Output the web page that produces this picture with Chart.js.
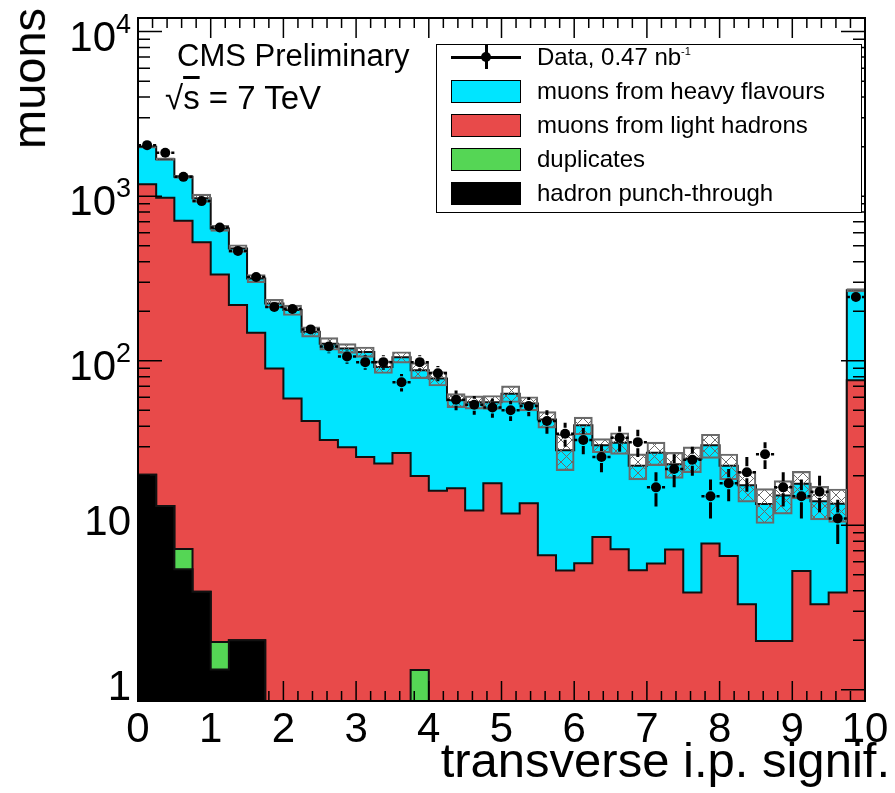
<!DOCTYPE html>
<html>
<head>
<meta charset="utf-8">
<title>Muon transverse impact parameter significance</title>
<script src="https://cdn.jsdelivr.net/npm/chart.js@4.4.1/dist/chart.umd.min.js"></script>
<style>
  html, body { margin: 0; padding: 0; background: #fff; }
  #wrap { position: relative; width: 895px; height: 793px; font-family: 'Liberation Sans', Arial, Helvetica, sans-serif; color: #000; }
  canvas { display: block; }
  .txt { position: absolute; white-space: nowrap; line-height: 1; }
  #legend { position: absolute; left: 436px; top: 44px; width: 424px; height: 167px; border: 1.5px solid #000; background: #fff; }
  .row { position: absolute; left: 0; height: 34px; width: 100%; }
  .swatch { position: absolute; left: 14px; top: 1px; width: 68px; height: 21px; border: 1.5px solid #000; }
  .label { position: absolute; left: 100px; top: 0px; font-size: 24px; line-height: 1; }
</style>
</head>
<body>
<div id="wrap">
  <canvas id="ipChart" width="895" height="793"></canvas>

  <div class="txt" style="left:177px; top:40px; font-size:31px;">CMS Preliminary</div>
  <div class="txt" style="left:165px; top:81px; font-size:33px;">√<span style="text-decoration:overline;">s</span> = 7 TeV</div>

  <div class="txt" style="right:5px; top:736px; font-size:49px;">transverse i.p. signif.</div>
  <div class="txt" style="left:-42px; top:55px; font-size:47px; transform: rotate(-90deg); transform-origin: center;">muons</div>

  <div id="legend">
    <div class="row" style="top:0px;">
      <div style="position:absolute; left:14px; top:11px; width:70px; height:2.5px; background:#000;"></div>
      <div style="position:absolute; left:44px; top:7px; width:10px; height:10px; border-radius:50%; background:#000;"></div>
      <div style="position:absolute; left:47.5px; top:0px; width:3px; height:24px; background:#000;"></div>
      <div class="label">Data, 0.47 nb<sup style="font-size:11px; vertical-align:10px;">-1</sup></div>
    </div>
    <div class="row" style="top:34px;"><div class="swatch" style="background:#00e5ff;"></div><div class="label">muons from heavy flavours</div></div>
    <div class="row" style="top:68px;"><div class="swatch" style="background:#e84a4a;"></div><div class="label">muons from light hadrons</div></div>
    <div class="row" style="top:102px;"><div class="swatch" style="background:#55d655;"></div><div class="label">duplicates</div></div>
    <div class="row" style="top:136px;"><div class="swatch" style="background:#000;"></div><div class="label">hadron punch-through</div></div>
  </div>
</div>

<script>
// 40 bins of width 0.25, the last one also holds the overflow
const binEdges = Array.from({ length: 41 }, (_, i) => i * 0.25);
const binCenters = binEdges.slice(0, 40).map(x => x + 0.125);

// measured muon counts and their errors
const dataCounts = [2042, 1834, 1310, 933, 645, 465, 323, 212, 206, 155,
                    122, 106, 98, 98, 74, 98, 84, 58, 54, 52,
                    50, 53, 43, 36, 33, 26, 34, 32, 17, 22,
                    25, 15, 18, 21, 27, 17, 15, 16, 11, 244];
const dataErrors = [45, 43, 36, 31, 25, 22, 18, 15, 14, 12,
                    11, 10, 10, 10, 9, 10, 9, 8, 7, 7,
                    7, 7, 7, 6, 6, 5, 6, 6, 4, 5,
                    5, 4, 4, 5, 5, 4, 4, 4, 3.3, 16];

// simulated components (per bin, not stacked)
const hfMuons = [812, 702, 602, 449, 303, 263, 168, 133, 144, 107,
                 94, 89, 87, 68, 77.5, 67.6, 61.8, 40.7, 43.7, 38,
                 51.2, 41.4, 37.4, 23.3, 34.6, 22.1, 24.6, 17.7, 21.7, 16.4,
                 21.5, 22.9, 16.5, 14.2, 11.5, 13.2, 12.6, 10.7, 9.6, 192];
const lightHadrons = [1163, 964, 701, 520, 332, 216, 146, 89.7, 59, 43,
                      33, 29.8, 26, 23.7, 27.5, 18.6, 16.2, 16.8, 12.3, 18.0,
                      11.8, 13.6, 6.57, 5.31, 5.87, 8.49, 7.15, 5.33, 5.85, 7.12,
                      3.90, 7.74, 6.51, 3.31, 1.98, 1.98, 5.27, 3.31, 3.90, 76];
const duplicates = [0, 0, 1.77, 0, 0.62, 0, 0, 0, 0, 0,
                    0, 0, 0, 0, 0, 1.32, 0, 0, 0, 0,
                    0, 0, 0, 0, 0, 0, 0, 0, 0, 0,
                    0, 0, 0, 0, 0, 0, 0, 0, 0, 0];
const punchThrough = [20.3, 13.1, 5.4, 3.95, 1.33, 2.0, 2.0, 0, 0, 0,
                      0, 0, 0, 0, 0, 0, 0, 0, 0, 0,
                      0, 0, 0, 0, 0, 0, 0, 0, 0, 0,
                      0, 0, 0, 0, 0, 0, 0, 0, 0, 0];
// relative uncertainty on the summed simulation
const mcRelErr = [0.018, 0.018, 0.021, 0.057, 0.043, 0.053, 0.057, 0.060, 0.072, 0.072,
                  0.088, 0.068, 0.072, 0.088, 0.080, 0.11, 0.10, 0.098, 0.092, 0.098,
                  0.115, 0.098, 0.115, 0.25, 0.123, 0.098, 0.15, 0.18, 0.163, 0.18,
                  0.178, 0.167, 0.178, 0.21, 0.24, 0.23, 0.19, 0.23, 0.23, 0.024];

// y labels as mantissa + exponent
const yTickValues = [1, 10, 100, 1000, 10000];
const yTickBase = ['1', '10', '10', '10', '10'];
const yTickExp = ['', '', '2', '3', '4'];

const COLORS = { hf: '#00e5ff', light: '#e84a4a', dup: '#55d655', punch: '#000000', outline: '#111111' };
const FONT = "'Liberation Sans', Arial, Helvetica, sans-serif";
const Y_MIN = 0.855, Y_MAX = 12100;
const FLOOR = 0.05; // empty bins are sent below the axis

// running sums for the stack
const cumPunch = punchThrough.slice();
const cumDup = cumPunch.map((v, i) => v + duplicates[i]);
const cumLight = cumDup.map((v, i) => v + lightHadrons[i]);
const cumTotal = cumLight.map((v, i) => v + hfMuons[i]);

// histogram outline: one point per bin low edge, horizontal run to the next edge
function stepPoints(values) {
  const pts = values.map((v, i) => ({ x: binEdges[i], y: v > 0 ? v : FLOOR }));
  pts.push({ x: binEdges[40], y: pts[pts.length - 1].y });
  return pts;
}

function makeHatch() {
  const c = document.createElement('canvas');
  c.width = 11; c.height = 11;
  const g = c.getContext('2d');
  g.strokeStyle = '#6a6a6a';
  g.lineWidth = 1;
  g.beginPath();
  g.moveTo(0, 0); g.lineTo(11, 11);
  g.moveTo(11, 0); g.lineTo(0, 11);
  g.stroke();
  return g.createPattern(c, 'repeat');
}

// error bars with a gap around the marker
const errorBars = {
  id: 'errorBars',
  afterDatasetsDraw(chart) {
    const meta = chart.getDatasetMeta(0);
    const xs = chart.scales.x, ys = chart.scales.y;
    const ctx = chart.ctx;
    const gap = 6;
    ctx.save();
    ctx.strokeStyle = '#000';
    meta.data.forEach((pt, i) => {
      const cx = pt.x, cy = pt.y;
      const top = ys.getPixelForValue(dataCounts[i] + dataErrors[i]);
      const bot = ys.getPixelForValue(Math.max(dataCounts[i] - dataErrors[i], Y_MIN));
      const left = xs.getPixelForValue(binEdges[i]);
      const right = xs.getPixelForValue(binEdges[i + 1]);
      ctx.lineWidth = 3;
      ctx.beginPath();
      if (cy - top > gap) { ctx.moveTo(cx, top); ctx.lineTo(cx, cy - gap); }
      if (bot - cy > gap) { ctx.moveTo(cx, cy + gap); ctx.lineTo(cx, bot); }
      ctx.stroke();
      ctx.lineWidth = 2.5;
      ctx.beginPath();
      ctx.moveTo(left, cy); ctx.lineTo(cx - gap, cy);
      ctx.moveTo(cx + gap, cy); ctx.lineTo(right, cy);
      ctx.stroke();
    });
    ctx.restore();
  }
};

// frame with inward ticks on all four sides
const frameTicks = {
  id: 'frameTicks',
  afterDatasetsDraw(chart) {
    const { ctx, chartArea: a } = chart;
    const xs = chart.scales.x, ys = chart.scales.y;
    ctx.save();
    ctx.strokeStyle = '#000';
    ctx.lineWidth = 1.5;
    ctx.beginPath();
    for (let k = 0; k <= 50; k++) {
      const px = xs.getPixelForValue(k * 0.2);
      const len = k % 5 === 0 ? 20 : 10;
      ctx.moveTo(px, a.bottom); ctx.lineTo(px, a.bottom - len);
      ctx.moveTo(px, a.top); ctx.lineTo(px, a.top + len);
    }
    for (let d = 0; d <= 4; d++) {
      for (let m = 1; m <= 9; m++) {
        const v = m * Math.pow(10, d);
        if (v < Y_MIN || v > Y_MAX) continue;
        const py = ys.getPixelForValue(v);
        const len = m === 1 ? 24 : 12;
        ctx.moveTo(a.left, py); ctx.lineTo(a.left + len, py);
        ctx.moveTo(a.right, py); ctx.lineTo(a.right - len, py);
      }
    }
    ctx.stroke();
    ctx.lineWidth = 2;
    ctx.strokeRect(a.left, a.top, a.right - a.left, a.bottom - a.top);
    ctx.restore();
  }
};

// decade labels with a raised exponent, right-aligned against the frame
const yLabels = {
  id: 'yLabels',
  afterDraw(chart) {
    const { ctx, chartArea: a } = chart;
    const ys = chart.scales.y;
    const baseFont = '42px ' + FONT, expFont = '27px ' + FONT;
    const right = a.left - 7;
    ctx.save();
    ctx.fillStyle = '#000';
    ctx.textBaseline = 'alphabetic';
    ctx.textAlign = 'left';
    yTickValues.forEach((v, i) => {
      const py = ys.getPixelForValue(v);
      ctx.font = expFont;
      const expW = yTickExp[i] ? ctx.measureText(yTickExp[i]).width : 0;
      ctx.font = baseFont;
      const baseW = ctx.measureText(yTickBase[i]).width;
      const baseline = yTickExp[i] ? py + 19 : py + 10;
      ctx.fillText(yTickBase[i], right - expW - baseW, baseline);
      if (yTickExp[i]) {
        ctx.font = expFont;
        ctx.fillText(yTickExp[i], right - expW, baseline - 18);
      }
    });
    ctx.restore();
  }
};

function histDataset(label, values, color, order) {
  return {
    type: 'line',
    label: label,
    data: stepPoints(values),
    stepped: 'before',
    borderColor: COLORS.outline,
    borderWidth: 2,
    backgroundColor: color,
    fill: 'start',
    pointRadius: 0,
    order: order
  };
}

const ctx = document.getElementById('ipChart').getContext('2d');
new Chart(ctx, {
  data: {
    datasets: [
      {
        type: 'scatter',
        label: 'Data',
        data: binCenters.map((x, i) => ({ x: x, y: dataCounts[i] })),
        pointRadius: 5,
        pointBackgroundColor: '#000',
        pointBorderWidth: 0,
        order: 0
      },
      {
        type: 'bar',
        label: 'MC uncertainty',
        data: binCenters.map((x, i) => ({ x: x, y: [cumTotal[i] * (1 - mcRelErr[i]), cumTotal[i] * (1 + mcRelErr[i])] })),
        backgroundColor: makeHatch(),
        borderColor: '#6a6a6a',
        borderWidth: 1.5,
        borderSkipped: false,
        barPercentage: 1,
        categoryPercentage: 1,
        grouped: false,
        order: 1
      },
      histDataset('hadron punch-through', cumPunch, COLORS.punch, 2),
      histDataset('duplicates', cumDup, COLORS.dup, 3),
      histDataset('muons from light hadrons', cumLight, COLORS.light, 4),
      histDataset('muons from heavy flavours', cumTotal, COLORS.hf, 5)
    ]
  },
  options: {
    responsive: false,
    animation: false,
    layout: { autoPadding: false, padding: { top: 18, right: 30, bottom: 0, left: 0 } },
    plugins: { legend: { display: false }, tooltip: { enabled: false } },
    scales: {
      x: {
        type: 'linear',
        min: 0,
        max: 10,
        offset: false,
        grid: { display: false, drawTicks: false, offset: false },
        border: { display: false },
        ticks: { stepSize: 1, color: '#000', padding: 4, font: { family: FONT, size: 42 } },
        afterFit: function(scale) {
          scale.height = 92;
          scale.paddingLeft = 0;
          scale.paddingRight = 0;
        }
      },
      y: {
        type: 'logarithmic',
        min: Y_MIN,
        max: Y_MAX,
        grid: { display: false, drawTicks: false },
        border: { display: false },
        afterBuildTicks: function(scale) { scale.ticks = yTickValues.map(v => ({ value: v })); },
        ticks: { display: false },
        afterFit: function(scale) {
          scale.width = 138;
          scale.paddingTop = 0;
          scale.paddingBottom = 0;
        }
      }
    }
  },
  plugins: [errorBars, frameTicks, yLabels]
});
</script>
</body>
</html>
